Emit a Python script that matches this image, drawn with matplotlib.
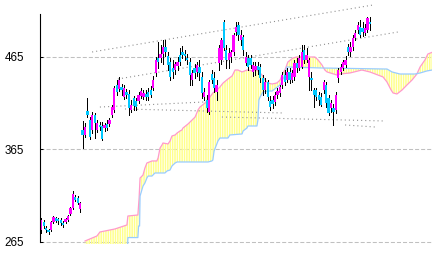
import matplotlib
matplotlib.use('Agg')
import matplotlib.pyplot as plt
from matplotlib.patches import Polygon
from matplotlib import font_manager
import numpy as np

plt.rcParams['lines.scale_dashes'] = False
plt.rcParams['hatch.linewidth'] = 1.1

# ---------------- data ----------------
opens = [278, 286.7, 280, 278, 278, 286.7, 291, 289.9, 288.8, 285.6,
         286.7, 289, 295.2, 302, 313.7, 312.6, 301,
         386.1, 380.7, 406.6, 396.9, 386.1, 402.3, 386.1, 391.5, 390.4, 388.2,
         392.6, 392.6, 402.3, 407.7, 434.7, 430.4, 432.6, 421.8, 427.2, 425,
         407.7, 420.7, 417.4, 417.4, 422.8, 421.8, 425, 427.2, 429.3, 431.5,
         447.7, 463.9, 463.9, 468.2, 475.8, 466.1, 459.6, 453.1, 450.9, 455.3,
         467.2, 470.4, 468.2, 463.9, 459.6, 440.1, 453.1, 448.8, 454.2, 443.4,
         421.8, 418.5, 405.5, 446.6, 442.3, 427.2, 458.5, 461.8, 502.8, 472.6,
         461.8, 465, 470.4, 492, 499.6, 483.4, 486.6, 458.5, 463.9, 463.9,
         448.8, 450.9, 455.3, 454.2, 442.3, 429.3, 438, 417.4, 418.5, 416.4,
         423.9, 426.1, 434.7, 445.5, 440.1, 448.8, 440.1, 443.4, 458.5, 453.1,
         454.2, 472.6, 461.8, 443.4, 442.3, 429.3, 429.3, 423.9, 421.8, 429.3,
         434.7, 420.7, 409.9, 409.9, 407.7, 442.3, 448.8, 453.1, 456.4, 475.8,
         470.4, 475.8, 485.5, 494.2, 497.4, 496.4, 490.9, 494.2, 502.8]
closes = [288.8, 282.3, 278, 275.8, 286.7, 292, 287.8, 287.8, 285.6, 283.4,
          290, 293, 302, 316.8, 310.4, 307, 307,
          380.7, 389.3, 402.3, 378.5, 402.3, 393.7, 393.7, 389.3, 376.3, 391.5,
          388.2, 396.9, 410.9, 431.5, 427.2, 440.1, 429.3, 431.5, 423.9, 409.9,
          413.1, 412, 410.9, 423.9, 428.2, 426.1, 421.8, 421.8, 423.9, 440.1,
          461.8, 459.6, 468.2, 475.8, 470.4, 456.4, 443.4, 448.8, 457.4, 459.6,
          459.6, 467.2, 466.1, 461.8, 445.5, 447.7, 447.7, 456.4, 447.7, 426.1,
          427.2, 409.9, 438, 440.1, 431.5, 434.7, 474.7, 483.4, 474.7, 461.8,
          469.3, 470.4, 488.8, 497.4, 488.8, 488.8, 472.6, 465, 454.2, 456.4,
          456.4, 455.3, 450.9, 442.3, 429.3, 438, 421.8, 410.9, 414.2, 423.9,
          428.2, 432.6, 445.5, 438, 448.8, 440.1, 447.7, 458.5, 453.1, 463.9,
          470.4, 461.8, 467.2, 461.8, 440.1, 423.9, 421.8, 418.5, 413.1, 438,
          415.3, 404.5, 415.3, 405.5, 423.9, 450.9, 454.2, 459.6, 461.8, 470.4,
          475.8, 485.5, 490.9, 499.6, 488.8, 492, 496.4, 507.2, 500.7]
highs = [291, 289, 282.3, 279, 287.8, 293, 292, 291, 291, 287.8,
         291, 294, 303, 320, 316, 315, 308,
         395.8, 393.7, 420.7, 400.1, 405.5, 404.5, 396.9, 394.7, 394.7, 393.7,
         396.9, 399.1, 413.1, 433.6, 440.1, 443.4, 435.8, 434.7, 430.4, 429.3,
         418.5, 422.8, 420.7, 427.2, 431.5, 429.3, 429.3, 431.5, 433.6, 444.5,
         465, 481.2, 478, 483.4, 483.4, 470.4, 463.9, 461.8, 459.6, 465,
         474.7, 476.9, 472.6, 468.2, 463.9, 450.9, 457.4, 459.6, 461.8, 448.8,
         431.5, 423.9, 440.1, 450.9, 448.8, 440.1, 478, 485.5, 505, 478,
         474.7, 472.6, 490.9, 502.8, 502.8, 494.2, 488.8, 470.4, 467.2, 467.2,
         459.6, 459.6, 459.6, 457.4, 445.5, 442.3, 440.1, 422.8, 422.8, 427.2,
         431.5, 434.7, 448.8, 450.9, 453.1, 453.1, 450.9, 461.8, 463.9, 467.2,
         478, 478, 474.7, 463.9, 448.8, 431.5, 431.5, 427.2, 426.1, 440.1,
         438, 423.9, 418.5, 414.2, 427.2, 453.1, 457.4, 461.8, 466.1, 479.1,
         481.2, 488.8, 494.2, 502.8, 505, 502.8, 500.7, 508.2, 508.2]
lows = [274.7, 280, 275.8, 273.7, 276.9, 285.6, 286.7, 284.5, 283.4, 281.2,
        285, 287.8, 294, 301, 309.3, 306, 297,
        366.6, 378.5, 400.1, 376.3, 382.8, 377.4, 383.9, 386.1, 375.3, 385,
        386.1, 390.4, 400.1, 405.5, 423.9, 428.2, 423.9, 419.6, 420.7, 402.3,
        405.5, 407.7, 407.7, 415.3, 420.7, 419.6, 418.5, 418.5, 421.8, 429.3,
        444.5, 453.1, 459.6, 457.4, 466.1, 450.9, 440.1, 442.3, 446.6, 450.9,
        456.4, 463.9, 461.8, 457.4, 434.7, 434.7, 442.3, 444.5, 440.1, 420.7,
        418.5, 405.5, 403.4, 436.9, 427.2, 418.5, 450.9, 457.4, 472.6, 453.1,
        453.1, 459.6, 467.2, 488.8, 483.4, 478, 467.2, 456.4, 450.9, 453.1,
        444.5, 445.5, 446.6, 438, 423.9, 426.1, 418.5, 407.7, 409.9, 413.1,
        420.7, 422.8, 431.5, 434.7, 438, 436.9, 438, 440.1, 448.8, 450.9,
        453.1, 458.5, 459.6, 429.3, 429.3, 410.9, 418.5, 413.1, 412, 426.1,
        410.9, 402.3, 405.5, 391.5, 404.5, 438, 446.6, 450.9, 454.2, 467.2,
        466.1, 472.6, 483.4, 490.9, 486.6, 487.7, 488.8, 492, 494.2]

# cloud: leading span A (pink) and span B (blue), breakpoints (period index, value)
span_a_x = [18.0, 22.9, 24.1, 30.3, 35.2, 35.6, 39.7, 40.2, 40.6, 41.4,
            41.8, 42.6, 43.4, 45.5, 47.5, 48.0, 48.8, 49.6, 50.0, 52.1,
            52.9, 53.7, 55.0, 55.8, 57.0, 57.8, 58.2, 60.3, 63.2, 64.4,
            65.2, 67.3, 69.3, 70.5, 72.2, 73.4, 74.7, 76.7, 78.4, 79.6,
            80.8, 82.5, 84.5, 87.0, 88.6, 90.7, 91.9, 93.1, 94.8, 96.8,
            98.1, 99.3, 100.1, 101.3, 103.4, 105.0, 112.4, 113.7, 115.3, 116.5,
            117.4, 121.5, 122.7, 126.8, 131.7, 135.0, 138.3, 140.4, 142.0, 143.7,
            144.5, 146.1, 148.2, 150.2, 152.3, 154.3, 155.6, 157.6, 158.8, 160.5]
span_a = [266.1, 271.5, 275.8, 279.1, 283.4, 293.1, 294.2, 312.6, 334.2, 336.3,
          337.4, 345.0, 350.4, 352.6, 352.6, 355.8, 366.6, 369.9, 372.0, 371.0,
          374.2, 379.6, 380.7, 382.8, 385.0, 386.1, 388.2, 392.6, 400.1, 407.7,
          410.9, 415.3, 421.8, 426.1, 429.3, 432.6, 436.9, 441.2, 444.5, 450.9,
          450.9, 448.8, 450.9, 449.9, 450.9, 445.5, 440.1, 436.9, 435.8, 436.9,
          440.1, 447.7, 450.9, 459.6, 463.9, 465.0, 465.0, 461.8, 456.4, 450.9,
          448.8, 445.5, 446.6, 447.7, 450.9, 448.8, 445.5, 443.4, 438.0, 429.3,
          426.1, 425.0, 429.3, 434.7, 440.1, 446.6, 454.2, 461.8, 468.2, 470.0]
span_b_x = [17.5, 35.4, 35.6, 39.7, 40.0, 40.4, 40.6, 41.8, 42.6, 43.4,
            43.9, 45.5, 46.7, 50.8, 51.7, 52.9, 53.7, 55.0, 55.8, 68.5,
            70.1, 70.5, 71.0, 71.8, 72.6, 73.4, 76.7, 77.5, 82.5, 82.9,
            84.5, 84.9, 88.6, 89.0, 89.4, 89.9, 91.1, 93.1, 94.8, 98.1,
            99.7, 100.9, 115.3, 141.2, 142.0, 144.1, 147.3, 153.5, 155.6, 158.4,
            160.5]
span_b = [255.0, 255.0, 269.8, 269.8, 282.3, 282.3, 314.7, 325.5, 328.8, 334.2,
          336.3, 336.3, 339.6, 339.6, 341.8, 342.8, 347.2, 350.4, 351.5, 351.5,
          352.6, 353.6, 363.4, 368.8, 374.2, 377.4, 377.4, 380.7, 381.8, 385.0,
          388.2, 390.4, 390.4, 396.9, 418.5, 421.8, 427.2, 428.2, 428.2, 434.7,
          443.4, 454.2, 453.1, 452.0, 452.0, 448.8, 446.6, 446.6, 447.7, 449.9,
          450.9]

# dotted trend lines (start index, start value, end index, end value)
trend_x0 = [20.9, 31.5, 24.1, 34.4, 74.2, 124.8]
trend_y0 = [470.4, 441.2, 410.9, 408.8, 400.1, 391.5]
trend_x1 = [136.3, 146.5, 67.3, 98.9, 141.2, 137.1]
trend_y1 = [521.2, 492.0, 416.4, 404.5, 395.8, 389.3]

yticks = [265, 365, 465]
ytick_labels = ['265', '365', '465']

# ---------------- font choice ----------------
label_font, label_size = 'DejaVu Sans', 7.6
for fam, size in [('Liberation Sans Narrow', 9.4), ('DejaVu Sans Condensed', 8.6),
                  ('Liberation Sans', 8.4)]:
    try:
        font_manager.findfont(font_manager.FontProperties(family=fam),
                              fallback_to_default=False)
        label_font, label_size = fam, size
        break
    except Exception:
        pass

# ---------------- figure ----------------
W, H = 434, 256
fig = plt.figure(figsize=(W / 100, H / 100), dpi=100)
ax = fig.add_axes([40 / W, 12.15 / H, 392 / W, 243.85 / H])
ax.set_xlim(-0.5, 160.5)
ax.set_ylim(263, 526.6)

for v in yticks:
    ax.axhline(v, color='#c0c0c0', lw=0.75, dashes=(2.9, 1.45), zorder=0)

# cloud hatch
verts = list(zip(span_a_x, span_a)) + list(zip(span_b_x[::-1], span_b[::-1]))
cloud = Polygon(verts, closed=True, facecolor='none', edgecolor='#ffff8c',
                hatch='|||||||', linewidth=0, zorder=1)
ax.add_patch(cloud)
ax.plot(span_a_x, span_a, color='#ff99cc', lw=0.9, zorder=2)
ax.plot(span_b_x, span_b, color='#99ccff', lw=0.9, zorder=2)

for x0, y0, x1, y1 in zip(trend_x0, trend_y0, trend_x1, trend_y1):
    ax.plot([x0, x1], [y0, y1], color='#8c8c8c', lw=0.8,
            dashes=(0.75, 2.2), zorder=2)

# candles
o = np.array(opens); c = np.array(closes)
hi = np.array(highs); lo = np.array(lows)
x = np.arange(len(o))
up = c >= o
cols = np.where(up, '#ff00ff', '#00c8ff')
ax.vlines(x, lo, hi, color='black', lw=0.72, zorder=3, antialiased=False)
ax.bar(x, np.maximum(np.abs(c - o), 1.5), bottom=np.minimum(o, c), width=0.92,
       color=cols, linewidth=0, zorder=4, antialiased=False)

# axes styling
for s in ['top', 'right', 'bottom']:
    ax.spines[s].set_visible(False)
ax.spines['left'].set_bounds(265, 511.7)
ax.spines['left'].set_linewidth(0.8)
ax.spines['left'].set_zorder(5)
ax.set_xticks([])
ax.set_yticks(yticks)
ax.set_yticklabels(ytick_labels, family=label_font, fontsize=label_size)
ax.tick_params(axis='y', direction='in', length=2.2, width=0.75, pad=11.3,
               colors='black')
ax.patch.set_alpha(0)

fig.savefig('out.png', dpi=100, facecolor='white')
